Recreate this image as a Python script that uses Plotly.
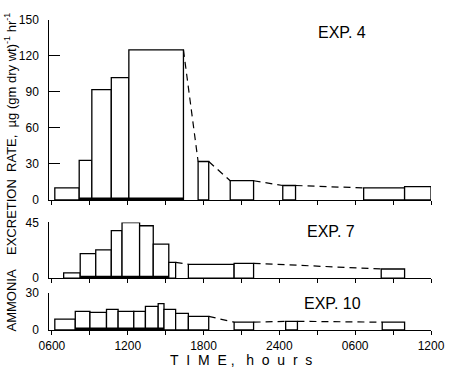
import plotly.graph_objects as go

# ---------------- data (hours since 00:00 of day 1) ----------------
exp4_start = [6.23, 8.16, 9.16, 10.70, 12.09, 17.57, 20.11, 24.27, 30.67, 33.91]
exp4_end   = [8.16, 9.16, 10.70, 12.09, 16.41, 18.41, 21.96, 25.28, 33.91, 36.0]
exp4_rate  = [10, 33, 92, 102, 125, 32, 16, 12, 10, 11]
exp4_light = [8.16, 16.41]

exp7_start = [6.93, 8.24, 9.47, 10.70, 11.55, 12.94, 14.02, 15.25, 16.80, 20.42, 32.06]
exp7_end   = [8.24, 9.47, 10.70, 11.55, 12.94, 14.02, 15.25, 15.79, 20.42, 21.96, 33.91]
exp7_rate  = [4.3, 19.8, 22.9, 38.4, 44.9, 42.3, 27.5, 12.8, 11.2, 12.0, 7.4]
exp7_light = [8.24, 15.25]

exp10_start = [6.23, 7.85, 9.01, 10.32, 11.24, 12.48, 13.40, 14.41, 14.87, 15.79, 16.80, 20.42, 24.50, 32.14]
exp10_end   = [7.85, 9.01, 10.32, 11.24, 12.48, 13.40, 14.41, 14.87, 15.79, 16.80, 18.41, 21.96, 25.43, 33.91]
exp10_rate  = [8.7, 15.0, 14.2, 16.6, 15.0, 15.0, 19.0, 21.3, 16.6, 13.4, 11.0, 6.3, 7.0, 6.3]
exp10_light = [7.85, 14.87]

x_range = [5.77, 36.0]
x_tickvals = [6, 9, 12, 15, 18, 21, 24, 27, 30, 33, 36]
x_ticktext = ["0600", "", "1200", "", "1800", "", "2400", "", "0600", "", "1200"]

exp4_yticks = [0, 30, 60, 90, 120, 150]
exp7_yticks = [0, 45]
exp10_yticks = [0, 30]

panel_labels = ["EXP. 4", "EXP. 7", "EXP. 10"]

# ---------------- figure ----------------
FONT = "Liberation Sans, Arial, sans-serif"
nb = "\u00a0"
fig = go.Figure()

panels = [
    (exp4_start, exp4_end, exp4_rate, exp4_light, "x", "y"),
    (exp7_start, exp7_end, exp7_rate, exp7_light, "x2", "y2"),
    (exp10_start, exp10_end, exp10_rate, exp10_light, "x3", "y3"),
]

for st, en, val, light, xa, ya in panels:
    centers = [(a + b) / 2 for a, b in zip(st, en)]
    widths = [b - a for a, b in zip(st, en)]
    fig.add_trace(go.Bar(
        x=centers, y=val, width=widths, base=0,
        marker=dict(color="white", line=dict(color="black", width=1.3)),
        xaxis=xa, yaxis=ya, showlegend=False, hoverinfo="skip"))
    # dashed connectors across gaps
    dx, dy = [], []
    for i in range(len(st) - 1):
        if st[i + 1] - en[i] > 0.05:
            dx += [en[i], st[i + 1], None]
            dy += [val[i], val[i + 1], None]
    fig.add_trace(go.Scatter(
        x=dx, y=dy, mode="lines",
        line=dict(color="black", width=1.2, dash="7px,5px"),
        xaxis=xa, yaxis=ya, showlegend=False, hoverinfo="skip"))
    # light period bar along the baseline
    fig.add_trace(go.Scatter(
        x=light, y=[0, 0], mode="lines",
        line=dict(color="black", width=5),
        xaxis=xa, yaxis=ya, showlegend=False, hoverinfo="skip"))

common_x = dict(range=x_range, showline=True, linecolor="black", linewidth=1.2,
                ticks="outside", ticklen=4, tickcolor="black", tickwidth=1.2,
                tickvals=x_tickvals, showgrid=False, zeroline=False,
                tickfont=dict(family=FONT, size=12, color="black"))
common_y = dict(showline=True, linecolor="black", linewidth=1.2,
                ticks="inside", ticklen=11, tickcolor="black", tickwidth=1.2,
                showgrid=False, zeroline=False,
                tickfont=dict(family=FONT, size=12, color="black"))


def ylabels(vals):
    return [str(v) + nb * 2 for v in vals]


fig.update_layout(
    width=455, height=372,
    margin=dict(l=49, r=14, t=10, b=42),
    paper_bgcolor="white", plot_bgcolor="white",
    barmode="overlay",
    xaxis=dict(common_x, anchor="y", ticktext=[""] * len(x_tickvals)),
    xaxis2=dict(common_x, anchor="y2", ticktext=[""] * len(x_tickvals)),
    xaxis3=dict(common_x, anchor="y3", ticktext=x_ticktext),
    yaxis=dict(common_y, domain=[0.4156, 0.9906], range=[0, 150],
               tickvals=exp4_yticks, ticktext=ylabels(exp4_yticks)),
    yaxis2=dict(common_y, domain=[0.1656, 0.3438], range=[0, 45],
                tickvals=exp7_yticks, ticktext=ylabels(exp7_yticks)),
    yaxis3=dict(common_y, domain=[0.0, 0.1188], range=[0, 30],
                tickvals=exp10_yticks, ticktext=ylabels(exp10_yticks)),
)

ann_font = dict(family=FONT, size=16, color="black")
for label, px, py in zip(panel_labels, [350, 338, 340], [26, 229, 303]):
    fig.add_annotation(text=label, xref="paper", yref="paper",
                       x=(px - 49) / 392, y=(330 - py) / 320,
                       xanchor="center", yanchor="middle", showarrow=False, font=ann_font)

xtitle = (nb * 2).join("TIME") + nb + "," + nb * 3 + (nb * 2).join("hours")
fig.add_annotation(text=xtitle, xref="paper", yref="paper",
                   x=(246 - 49) / 392, y=(330 - 361) / 320,
                   xanchor="center", yanchor="middle", showarrow=False,
                   font=dict(family=FONT, size=14, color="black"))

ytitle = ("AMMONIA" + nb * 4 + "EXCRETION" + nb * 2 + "RATE," + nb * 2 + "\u00b5g" + nb +
          "(gm" + nb + "dry" + nb + "wt)<sup>-1</sup>" + nb + "hr<sup>-1</sup>")
fig.add_annotation(text=ytitle, xref="paper", yref="paper",
                   x=(9 - 49) / 392, y=(330 - 169) / 320, textangle=-90,
                   xanchor="center", yanchor="middle", showarrow=False,
                   font=dict(family=FONT, size=13, color="black"))

fig.write_html("out.html")
